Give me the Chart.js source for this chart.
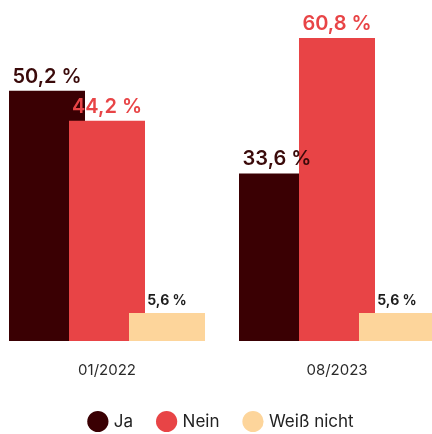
<!DOCTYPE html>
<html><head><meta charset="utf-8">
<script src="https://cdn.jsdelivr.net/npm/chart.js@4"></script>
<style>html,body{margin:0;padding:0;background:#fff;overflow:hidden;width:432px;height:434px}#c{display:block;margin-left:-8px}</style>
</head><body><canvas id="c" width="460" height="434"></canvas>
<script>
const categories = ['01/2022', '08/2023'];
const seriesNames = ['Ja', 'Nein', 'Weiß nicht'];
const jaValues = [50.2, 33.6];
const neinValues = [44.2, 60.8];
const weissValues = [5.6, 5.6];

const colors = ['#3a0003', '#e84446', '#fdd59b'];
const labelColors = ['#3a0a0a', '#e84446', '#1e1e1e'];
const labelFonts = ['600 20px Inter', '600 20px Inter', '700 14px Inter'];

const orderedDraw = {
  id: 'orderedDraw',
  beforeDatasetsDraw(chart) {
    for (let i = 0; i < chart.data.datasets.length; i++) {
      const meta = chart.getDatasetMeta(i);
      if (meta.visible) meta.controller.draw();
    }
    return false;
  },
  afterDraw(chart) {
    const ctx = chart.ctx;
    ctx.save();
    ctx.textAlign = 'center';
    ctx.textBaseline = 'alphabetic';
    chart.data.datasets.forEach((ds, i) => {
      const meta = chart.getDatasetMeta(i);
      meta.data.forEach((bar, j) => {
        ctx.font = labelFonts[i];
        ctx.fillStyle = labelColors[i];
        const txt = ds.data[j].toFixed(1).replace('.', ',') + ' %';
        ctx.fillText(txt, bar.x, bar.y - 8);
      });
    });
    ctx.restore();
  }
};

new Chart(document.getElementById('c'), {
  type: 'bar',
  data: {
    labels: categories,
    datasets: [
      { label: seriesNames[0], data: jaValues, backgroundColor: colors[0] },
      { label: seriesNames[1], data: neinValues, backgroundColor: colors[1] },
      { label: seriesNames[2], data: weissValues, backgroundColor: colors[2] }
    ]
  },
  options: {
    responsive: false,
    animation: false,
    devicePixelRatio: 1,
    categoryPercentage: 0.7826,
    barPercentage: 1.2667,
    layout: { padding: { top: 2, left: 0, right: 0, bottom: 0 } },
    scales: {
      x: {
        grid: { display: false, drawTicks: false },
        border: { display: false },
        ticks: { color: '#2a2a2a', font: { family: 'Inter', size: 15 }, padding: 20 },
        afterFit(scale) { scale.height = 46; }
      },
      y: {
        display: false,
        min: 0,
        max: 68
      }
    },
    plugins: {
      tooltip: { enabled: false },
      legend: {
        position: 'bottom',
        maxHeight: 47,
        labels: {
          usePointStyle: true,
          pointStyle: 'circle',
          boxWidth: 15,
          boxHeight: 15,
          color: '#222',
          padding: 26,
          font: { family: 'Inter', size: 17 }
        }
      }
    }
  },
  plugins: [orderedDraw]
});
</script></body></html>
